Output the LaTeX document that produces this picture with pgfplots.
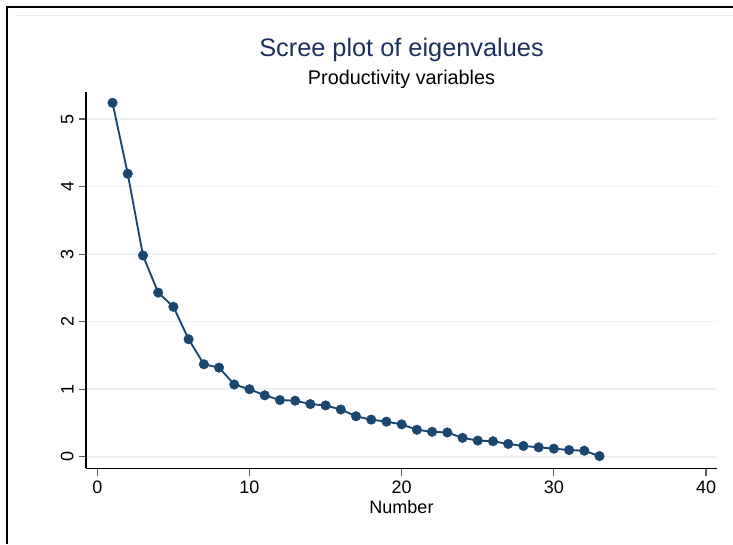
\documentclass[border=0pt]{standalone}
\usepackage{fontspec}
\setmainfont{Liberation Sans}
\usepackage{pgfplots}
\pgfplotsset{compat=1.18}

\definecolor{statanavy}{RGB}{26,71,111}
\definecolor{titlenavy}{RGB}{30,48,94}
\definecolor{statagrid}{RGB}{234,242,243}

% eigenvalues
\pgfplotstableread{
n  eig
1  5.24
2  4.19
3  2.98
4  2.43
5  2.22
6  1.74
7  1.37
8  1.32
9  1.07
10 1.00
11 0.91
12 0.84
13 0.83
14 0.78
15 0.76
16 0.70
17 0.60
18 0.55
19 0.52
20 0.48
21 0.40
22 0.37
23 0.36
24 0.28
25 0.24
26 0.23
27 0.19
28 0.16
29 0.14
30 0.12
31 0.10
32 0.09
33 0.01
}\screedata

\begin{document}
\begin{tikzpicture}
\useasboundingbox (0,0) rectangle (549.75pt,408pt);
\fill[white] (0,0) rectangle (549.75pt,408pt);
% frame of the graph region (only left and top edges are visible)
\draw[black, line width=1.8pt] (5.25pt,0) -- (5.25pt,402.75pt) -- (549.75pt,402.75pt);
\draw[black!8, line width=0.6pt] (10.5pt,396.75pt) -- (549.75pt,396.75pt);

\begin{axis}[
    at={(64.5pt,56.8pt)}, anchor=south west,
    scale only axis,
    width=473.25pt, height=282.4pt,
    xmin=-0.743, xmax=40.72,
    ymin=-0.170, ymax=5.404,
    axis x line*=bottom, axis y line*=left,
    axis line style={black, line width=1pt, -},
    xtick={0,10,20,30,40},
    ytick={0,1,2,3,4,5},
    tick align=outside,
    major tick length=5.6pt,
    tick style={black!65, line width=0.9pt},
    ymajorgrids=true,
    grid style={statagrid, line width=1.1pt},
    /pgf/number format/assume math mode=true,
    tick label style={font=\fontsize{13.5}{16}\selectfont},
    yticklabel style={rotate=90, anchor=south, inner xsep=0pt, inner ysep=3.5pt},
    xticklabel style={anchor=north, inner sep=0pt, yshift=-4pt},
    every axis title shift=0pt,
    title={Scree plot of eigenvalues},
    title style={at={(axis description cs:0.5,1.093)}, anchor=base, inner sep=0pt,
                 font=\fontsize{19}{22}\selectfont, text=titlenavy},
    xlabel={Number},
    xlabel style={at={(axis description cs:0.5,-0.1213)}, anchor=base, inner sep=0pt,
                  font=\fontsize{13.5}{16}\selectfont},
    clip=false,
]
\addplot[statanavy, line width=1.4pt, mark=*, mark size=3.6pt,
         mark options={fill=statanavy, draw=statanavy, line width=0.3pt}]
    table[x=n, y=eig] {\screedata};
\node[anchor=base, inner sep=0pt, font=\fontsize{14.85}{17}\selectfont]
    at (axis description cs:0.5,1.0197) {Productivity variables};
\end{axis}
\end{tikzpicture}
\end{document}
